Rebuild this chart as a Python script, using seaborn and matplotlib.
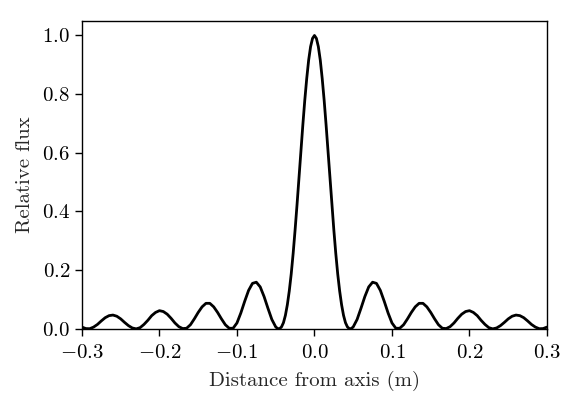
import numpy as np
import pandas as pd
import seaborn as sns
from matplotlib import pyplot as plt

# curve: 5 mm steps in the wings, 2.5 mm steps across the main lobe
dist = np.round(np.concatenate([
    np.arange(-0.300, -0.0549, 0.005),
    np.arange(-0.050, 0.0501, 0.0025),
    np.arange(0.055, 0.3001, 0.005),
]), 4)

flux_left = [
    0.006, 0.001, 0.0005, 0.006, 0.015, 0.027, 0.038, 0.045, 0.047, 0.043,
    0.034, 0.022, 0.011, 0.003, 0.0, 0.004, 0.015, 0.029, 0.045, 0.056,
    0.062, 0.059, 0.050, 0.036, 0.020, 0.0075, 0.001, 0.002, 0.014, 0.034,
    0.056, 0.075, 0.087, 0.087, 0.075, 0.056, 0.034, 0.014, 0.002, 0.002,
    0.020, 0.054, 0.094, 0.131, 0.155, 0.159, 0.143, 0.110, 0.070, 0.032,
]
flux_main = [
    0.0067, 0.001, 0.0005, 0.0067, 0.021, 0.046, 0.082, 0.129, 0.187, 0.257,
    0.337, 0.423, 0.514, 0.606, 0.695, 0.779, 0.853, 0.916, 0.962, 0.990,
    1.000,
    0.990, 0.962, 0.916, 0.853, 0.779, 0.695, 0.606, 0.514, 0.423, 0.337,
    0.257, 0.187, 0.129, 0.082, 0.046, 0.021, 0.0067, 0.0005, 0.001, 0.0067,
]
flux_right = [
    0.032, 0.070, 0.110, 0.143, 0.159, 0.155, 0.131, 0.094, 0.054, 0.020,
    0.002, 0.002, 0.014, 0.034, 0.056, 0.075, 0.087, 0.087, 0.075, 0.056,
    0.034, 0.014, 0.002, 0.001, 0.0075, 0.020, 0.036, 0.050, 0.059, 0.062,
    0.056, 0.045, 0.029, 0.015, 0.004, 0.0, 0.003, 0.011, 0.022, 0.034,
    0.043, 0.047, 0.045, 0.038, 0.027, 0.015, 0.006, 0.0005, 0.001, 0.006,
]
df = pd.DataFrame({'dist': dist, 'flux': flux_left + flux_main + flux_right})

sns.set_style('ticks')
plt.rcParams['font.family'] = 'serif'
plt.rcParams['font.serif'] = ['cmr10']
plt.rcParams['mathtext.fontset'] = 'cm'
plt.rcParams['axes.formatter.use_mathtext'] = True
plt.rcParams['axes.unicode_minus'] = True
plt.rcParams['font.size'] = 15

fig, ax = plt.subplots(figsize=(5.77, 4.08), dpi=100)
fig.subplots_adjust(left=0.142, right=0.948, top=0.949, bottom=0.194)
sns.lineplot(data=df, x='dist', y='flux', color='black', linewidth=2, ax=ax)

ax.set_xlim(-0.3, 0.3)
ax.set_ylim(0, 1.05)
ax.set_xticks([-0.3, -0.2, -0.1, 0.0, 0.1, 0.2, 0.3])
ax.set_yticks([0.0, 0.2, 0.4, 0.6, 0.8, 1.0])
ax.set_xlabel('Distance from axis (m)', labelpad=6)
ax.set_ylabel('Relative flux', labelpad=6)
for s in ax.spines.values():
    s.set_linewidth(1.0)
    s.set_color('black')
ax.tick_params(colors='black', width=1.0, length=5)
ax.tick_params(axis='x', pad=6)

plt.savefig('out.png', dpi=100)
